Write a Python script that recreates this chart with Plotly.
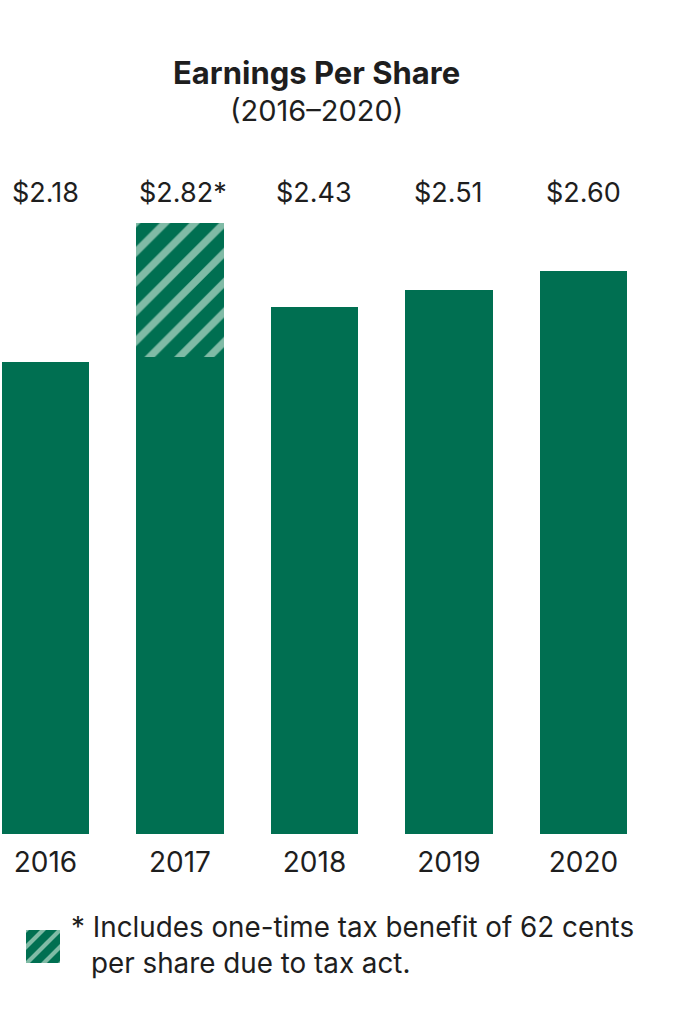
import plotly.graph_objects as go

years = ["2016", "2017", "2018", "2019", "2020"]
base_eps = [2.18, 2.20, 2.43, 2.51, 2.60]
tax_benefit = [0, 0.62, 0, 0, 0]
value_labels = ["$2.18", "$2.82*", "$2.43", "$2.51", "$2.60"]

GREEN = "#006f51"
STRIPE = "#80bba6"
FONT = "Inter"
INK = "#1e1e1e"

W, H = 683, 1017
xpos = list(range(len(years)))

fig = go.Figure()
fig.add_trace(go.Bar(x=xpos, y=base_eps, marker=dict(color=GREEN, line_width=0),
                     width=0.65, hoverinfo="skip"))
fig.add_trace(go.Bar(x=xpos, y=tax_benefit, width=0.65, hoverinfo="skip",
                     marker=dict(color=GREEN, line_width=0,
                                 pattern=dict(shape="/", fgcolor=STRIPE, bgcolor=GREEN, fgopacity=1,
                                              size=21, solidity=0.35, fillmode="overlay"))))

# legend swatch
fig.add_trace(go.Bar(x=[0], y=[1], width=1, xaxis="x2", yaxis="y2", hoverinfo="skip",
                     marker=dict(color=GREEN, line_width=0,
                                 pattern=dict(shape="/", fgcolor=STRIPE, bgcolor=GREEN, fgopacity=1,
                                              size=12, solidity=0.35, fillmode="overlay"))))


def note(x, y, text, size, anchor="center"):
    fig.add_annotation(x=x / W, y=1 - y / H, xref="paper", yref="paper", showarrow=False,
                       xanchor=anchor, yanchor="middle", text=text,
                       font=dict(family=FONT, size=size, color=INK))


for i, lab in enumerate(value_labels):
    fig.add_annotation(x=i + (0.02 if lab.endswith("*") else 0), y=1 - 192 / H, xref="x", yref="paper",
                       yanchor="middle", text=lab, showarrow=False,
                       font=dict(family=FONT, size=27, color=INK))

note(316, 72, "<b>Earnings Per Share</b>", 31)
note(316, 110, "(2016–2020)", 29)
note(69, 927, "* Includes one-time tax benefit of 62 cents", 27.8, "left")
note(89, 963, "per share due to tax act.", 27.8, "left")

fig.update_layout(
    width=W, height=H, barmode="stack", showlegend=False,
    margin=dict(l=0, r=0, t=0, b=0),
    paper_bgcolor="white", plot_bgcolor="white",
    xaxis=dict(domain=[0, 1], range=[-0.338, 4.74], tickvals=xpos, ticktext=years,
               showgrid=False, zeroline=False, showline=False, ticks="", ticklabelstandoff=9,
               tickfont=dict(family=FONT, size=28, color=INK)),
    yaxis=dict(domain=[1 - 834 / H, 1 - 180 / H], range=[0, 3.018], visible=False),
    xaxis2=dict(domain=[26 / W, 60 / W], range=[-0.5, 0.5], visible=False, anchor="y2"),
    yaxis2=dict(domain=[1 - 963 / H, 1 - 930 / H], range=[0, 1], visible=False, anchor="x2"),
)

fig.write_html("out.html", config={"displayModeBar": False},
               post_script="document.body.style.margin='0';")
